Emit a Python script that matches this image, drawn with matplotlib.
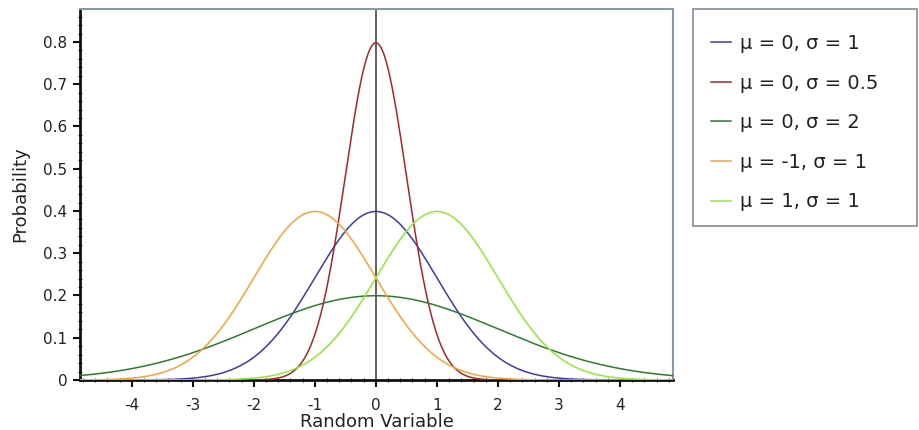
import numpy as np
import matplotlib
matplotlib.use("Agg")
import matplotlib.pyplot as plt
from matplotlib.ticker import MultipleLocator
from matplotlib.patches import Rectangle

mus = [0, 0, 0, -1, 1]
sigmas = [1, 0.5, 2, 1, 1]
labels = ["μ = 0, σ = 1", "μ = 0, σ = 0.5", "μ = 0, σ = 2", "μ = -1, σ = 1", "μ = 1, σ = 1"]
colors = ["#3d3ba8", "#a3282a", "#2f7a2f", "#f5a23a", "#8fe83a"]
xticks = [-4, -3, -2, -1, 0, 1, 2, 3, 4]
yticks = [0, 0.1, 0.2, 0.3, 0.4, 0.5, 0.6, 0.7, 0.8]
ytick_labels = ["0", "0.1", "0.2", "0.3", "0.4", "0.5", "0.6", "0.7", "0.8"]

plt.rcParams['font.family'] = ['DejaVu Sans']
fig = plt.figure(figsize=(9.19, 4.30), dpi=100)
ax = fig.add_axes([80/919, 1-380/430, (673-80)/919, (380-9)/430])

xmin, xmax = -4.85, 4.87
x = np.linspace(xmin, xmax, 1000)
lines = []
for mu, s, lab, c in zip(mus, sigmas, labels, colors):
    y = np.exp(-0.5*((x-mu)/s)**2)/(s*np.sqrt(2*np.pi))
    l, = ax.plot(x, y, color=c, lw=1.1, label=lab, zorder=3)
    lines.append(l)

ax.axvline(0, color="#555555", lw=1.3, zorder=2)
ax.set_xlim(xmin, xmax)
ax.set_ylim(0, 0.878)
ax.set_xticks(xticks)
ax.set_xticklabels([str(t) for t in xticks])
ax.set_yticks(yticks)
ax.set_yticklabels(ytick_labels)
ax.xaxis.set_minor_locator(MultipleLocator(0.2))
ax.yaxis.set_minor_locator(MultipleLocator(0.02))

for side in ["top", "right"]:
    ax.spines[side].set_color("#8796a8")
    ax.spines[side].set_linewidth(1.5)
for side in ["left", "bottom"]:
    ax.spines[side].set_color("#111111")
    ax.spines[side].set_linewidth(2)

ax.tick_params(which="major", direction="out", length=5, width=1.5, color="#111111",
               labelsize=11, labelcolor="#222222")
ax.tick_params(which="minor", direction="inout", length=3, width=0.8, color="#333333")
ax.tick_params(axis="x", pad=8)
ax.tick_params(axis="y", pad=4)
ax.set_xlabel("Random Variable", fontsize=13, color="#222222", labelpad=0)
ax.set_ylabel("Probability", fontsize=13, color="#222222", labelpad=10)

# legend box
fig.patches.append(Rectangle((693/919, 1-226/430), (917-693)/919, (226-9)/430,
                             transform=fig.transFigure, facecolor="white",
                             edgecolor="#8c96a0", lw=1.3, zorder=0))
leg = fig.legend(handles=lines, loc="upper left",
                 bbox_to_anchor=(711/919, 1-34/430), bbox_transform=fig.transFigure,
                 fontsize=14, frameon=False,
                 handlelength=1.05, handletextpad=0.45, labelspacing=1.06,
                 borderpad=0, borderaxespad=0)
for t in leg.get_texts():
    t.set_color("#222222")

fig.savefig("out.png", dpi=100)
